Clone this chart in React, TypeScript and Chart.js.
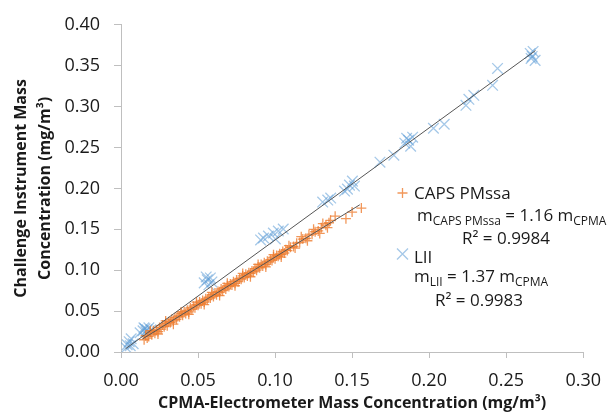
import React, { useEffect, useRef } from "react";
import { Chart, registerables } from "chart.js";

Chart.register(...registerables);

// ---- Data ----
const xTickLabels = ["0.00", "0.05", "0.10", "0.15", "0.20", "0.25", "0.30"];
const yTickLabels = ["0.00", "0.05", "0.10", "0.15", "0.20", "0.25", "0.30", "0.35", "0.40"];

const seriesNames = ["CAPS PMssa", "LII"];
const slopeLabels = ["1.16", "1.37"];
const r2Labels = ["0.9984", "0.9983"];

// CAPS PMssa (orange +)
const capsX = [
  0.015, 0.016, 0.017, 0.018, 0.019, 0.020, 0.021, 0.022, 0.023, 0.024, 0.025, 0.026, 0.027, 0.028,
  0.029, 0.030, 0.031, 0.032, 0.033, 0.034, 0.035, 0.036, 0.037, 0.038, 0.039, 0.040, 0.041,
  0.042, 0.043, 0.044, 0.045, 0.046, 0.047, 0.048, 0.049, 0.050, 0.051, 0.052, 0.053, 0.054,
  0.055, 0.056, 0.057, 0.058, 0.059, 0.060, 0.061, 0.062, 0.063, 0.064, 0.065, 0.066, 0.067,
  0.068, 0.069, 0.070, 0.071, 0.072, 0.073, 0.074, 0.075, 0.076, 0.077, 0.078, 0.079, 0.080,
  0.081, 0.082, 0.083, 0.084, 0.085, 0.086, 0.087, 0.088, 0.089, 0.090, 0.091, 0.092, 0.093,
  0.094, 0.095, 0.096, 0.097, 0.098, 0.099, 0.100, 0.101, 0.102, 0.103, 0.104, 0.105, 0.106,
  0.107, 0.108, 0.110, 0.112, 0.114, 0.116, 0.118, 0.120, 0.122, 0.124, 0.126, 0.128, 0.130,
  0.133, 0.135, 0.136, 0.139, 0.146, 0.150, 0.156,
  0.019, 0.024, 0.029, 0.034, 0.039, 0.044, 0.049, 0.054, 0.059, 0.064, 0.069, 0.074, 0.079,
  0.084, 0.089, 0.094, 0.099, 0.104, 0.109, 0.113, 0.117, 0.121, 0.125, 0.129, 0.131, 0.134,
];
const capsY = [
  0.015, 0.020, 0.017, 0.019, 0.024, 0.021, 0.026, 0.023, 0.027, 0.025, 0.030, 0.028, 0.033, 0.031,
  0.035, 0.032, 0.037, 0.036, 0.040, 0.038, 0.042, 0.040, 0.044, 0.043, 0.047, 0.045, 0.049,
  0.047, 0.051, 0.049, 0.054, 0.052, 0.056, 0.054, 0.058, 0.057, 0.061, 0.059, 0.063, 0.061,
  0.065, 0.064, 0.067, 0.066, 0.070, 0.068, 0.072, 0.070, 0.074, 0.073, 0.077, 0.075, 0.079,
  0.077, 0.081, 0.080, 0.083, 0.082, 0.086, 0.084, 0.088, 0.086, 0.090, 0.089, 0.093, 0.091,
  0.095, 0.093, 0.097, 0.096, 0.099, 0.098, 0.102, 0.100, 0.104, 0.103, 0.107, 0.105, 0.109,
  0.107, 0.111, 0.110, 0.113, 0.112, 0.116, 0.114, 0.118, 0.117, 0.120, 0.119, 0.123, 0.121,
  0.125, 0.124, 0.128, 0.129, 0.133, 0.134, 0.138, 0.139, 0.143, 0.144, 0.147, 0.148, 0.152,
  0.155, 0.158, 0.161, 0.166, 0.163, 0.171, 0.176,
  0.026, 0.022, 0.038, 0.034, 0.049, 0.046, 0.061, 0.058, 0.073, 0.069, 0.084, 0.081, 0.096,
  0.092, 0.107, 0.104, 0.119, 0.116, 0.130, 0.127, 0.141, 0.136, 0.150, 0.145, 0.157, 0.152,
];

// LII (blue x)
const liiX = [
  0.0034, 0.0040, 0.0053, 0.0066, 0.0079, 0.0060,
  0.0124, 0.0143, 0.0156, 0.0169, 0.0181, 0.0194, 0.0149, 0.0162,
  0.054, 0.056, 0.058, 0.059, 0.057, 0.0553,
  0.0925, 0.0957, 0.0989, 0.1021, 0.1053, 0.1002, 0.0906,
  0.1309, 0.1342, 0.1361, 0.1451, 0.1483, 0.1502, 0.1470, 0.1515,
  0.1681, 0.1771, 0.1842, 0.1867, 0.1893, 0.1880, 0.1854, 0.2028, 0.2098,
  0.2239, 0.2258, 0.2290, 0.2412, 0.2444, 0.2656, 0.2669, 0.2688, 0.2662, 0.2675,
];
const liiY = [
  0.0052, 0.0089, 0.0126, 0.0162, 0.0101, 0.0077,
  0.0235, 0.0260, 0.0284, 0.0272, 0.0296, 0.0272, 0.0296, 0.0248,
  0.0845, 0.0882, 0.0906, 0.0857, 0.0821, 0.0918,
  0.1394, 0.1418, 0.1455, 0.1479, 0.1504, 0.1382, 0.1370,
  0.1833, 0.1857, 0.1882, 0.1967, 0.2040, 0.2089, 0.1991, 0.2028,
  0.2321, 0.2406, 0.2553, 0.2589, 0.2626, 0.2516, 0.2613, 0.2735, 0.2784,
  0.3016, 0.3089, 0.3138, 0.3260, 0.3467, 0.3650, 0.3613, 0.3565, 0.3589, 0.3674,
];

// Trend lines (endpoints)
const capsFitX = [0.014, 0.155];
const capsFitY = [0.016, 0.180];
const liiFitX = [0.003, 0.269];
const liiFitY = [0.004, 0.3685];

// ---- Styles ----
const ORANGE = "rgba(237,125,49,0.8)";
const BLUE = "rgba(91,155,213,0.55)";
const TEXT = "#1a1a1a";
const AXIS = "#BFBFBF";
const FONT = "'Open Sans', 'Noto Sans', sans-serif";

const toPts = (xs: number[], ys: number[]) => xs.map((x, i) => ({ x, y: ys[i] }));

type Part = { t: string; sub?: boolean };

function drawParts(ctx: CanvasRenderingContext2D, x: number, y: number, parts: Part[]) {
  let cx = x;
  for (const p of parts) {
    ctx.font = p.sub ? `12px ${FONT}` : `17px ${FONT}`;
    ctx.fillText(p.t, cx, p.sub ? y + 3.5 : y);
    cx += ctx.measureText(p.t).width;
  }
}

const legendPlugin = {
  id: "fitLegend",
  afterDraw(chart: any) {
    const ctx: CanvasRenderingContext2D = chart.ctx;
    ctx.save();
    ctx.fillStyle = TEXT;
    ctx.textBaseline = "alphabetic";
    ctx.textAlign = "left";

    // orange plus marker
    ctx.strokeStyle = ORANGE;
    ctx.lineWidth = 1.3;
    ctx.beginPath();
    ctx.moveTo(402.5 - 5, 193);
    ctx.lineTo(402.5 + 5, 193);
    ctx.moveTo(402.5, 188);
    ctx.lineTo(402.5, 198);
    ctx.stroke();

    // blue cross marker
    ctx.strokeStyle = BLUE;
    ctx.beginPath();
    ctx.moveTo(402.5 - 5.5, 254 - 5.5);
    ctx.lineTo(402.5 + 5.5, 254 + 5.5);
    ctx.moveTo(402.5 - 5.5, 254 + 5.5);
    ctx.lineTo(402.5 + 5.5, 254 - 5.5);
    ctx.stroke();

    drawParts(ctx, 414, 199, [{ t: seriesNames[0] }]);
    drawParts(ctx, 417, 221, [
      { t: "m" },
      { t: seriesNames[0], sub: true },
      { t: ` = ${slopeLabels[0]} m` },
      { t: "CPMA", sub: true },
    ]);
    drawParts(ctx, 462, 244, [{ t: `R² = ${r2Labels[0]}` }]);

    drawParts(ctx, 414, 263, [{ t: seriesNames[1] }]);
    drawParts(ctx, 414, 282, [
      { t: "m" },
      { t: seriesNames[1], sub: true },
      { t: ` = ${slopeLabels[1]} m` },
      { t: "CPMA", sub: true },
    ]);
    drawParts(ctx, 435, 306, [{ t: `R² = ${r2Labels[1]}` }]);
    ctx.restore();
  },
};

export default function App() {
  const ref = useRef<HTMLCanvasElement | null>(null);

  useEffect(() => {
    if (!ref.current) return;
    const chart = new Chart(ref.current, {
      type: "scatter",
      data: {
        datasets: [
          {
            label: "CAPS fit",
            data: toPts(capsFitX, capsFitY),
            showLine: true,
            borderColor: "#555555",
            borderWidth: 1,
            pointRadius: 0,
            order: 0,
          },
          {
            label: "LII fit",
            data: toPts(liiFitX, liiFitY),
            showLine: true,
            borderColor: "#555555",
            borderWidth: 1,
            pointRadius: 0,
            order: 0,
          },
          {
            label: seriesNames[0],
            data: toPts(capsX, capsY),
            pointStyle: "cross",
            pointRadius: 5,
            borderColor: ORANGE,
            backgroundColor: ORANGE,
            pointBorderWidth: 1.3,
            order: 1,
          },
          {
            label: seriesNames[1],
            data: toPts(liiX, liiY),
            pointStyle: "crossRot",
            pointRadius: 7.5,
            borderColor: BLUE,
            backgroundColor: BLUE,
            pointBorderWidth: 1.3,
            order: 2,
          },
        ],
      },
      options: {
        responsive: false,
        animation: false,
        devicePixelRatio: 1,
        layout: { padding: { top: 24, right: 24, left: 0, bottom: 0 } },
        plugins: {
          legend: { display: false },
          tooltip: { enabled: false },
        },
        scales: {
          x: {
            type: "linear",
            min: 0,
            max: 0.3,
            afterFit: (s: any) => {
              s.height = 62;
            },
            ticks: {
              stepSize: 0.05,
              padding: 12,
              color: TEXT,
              font: { family: FONT, size: 18 },
              callback: (v: any) => xTickLabels[Math.round(Number(v) / 0.05)] ?? "",
              maxRotation: 0,
            },
            grid: { drawOnChartArea: false, drawTicks: true, tickLength: 6, color: AXIS },
            border: { color: AXIS, width: 1 },
            title: {
              display: true,
              text: "CPMA-Electrometer Mass Concentration (mg/m³)",
              color: TEXT,
              font: { family: FONT, size: 16, weight: "bold" },
              padding: { top: 0, bottom: 1 },
            },
          },
          y: {
            type: "linear",
            min: 0,
            max: 0.4,
            afterFit: (s: any) => {
              s.width = 121;
            },
            ticks: {
              stepSize: 0.05,
              padding: 14,
              color: TEXT,
              font: { family: FONT, size: 18 },
              callback: (v: any) => yTickLabels[Math.round(Number(v) / 0.05)] ?? "",
            },
            grid: { drawOnChartArea: false, drawTicks: true, tickLength: 7, color: AXIS },
            border: { color: AXIS, width: 1 },
            title: {
              display: true,
              text: ["Challenge Instrument Mass", "Concentration (mg/m³)"],
              color: TEXT,
              font: { family: FONT, size: 16, weight: "bold", lineHeight: 1.5 },
              padding: { top: 9, bottom: 0 },
            },
          },
        },
      },
      plugins: [legendPlugin],
    } as any);
    return () => chart.destroy();
  }, []);

  return (
    <div style={{ position: "fixed", left: 0, top: 0, width: 613, height: 414, background: "#fff" }}>
      <canvas ref={ref} width={613} height={414} />
    </div>
  );
}
